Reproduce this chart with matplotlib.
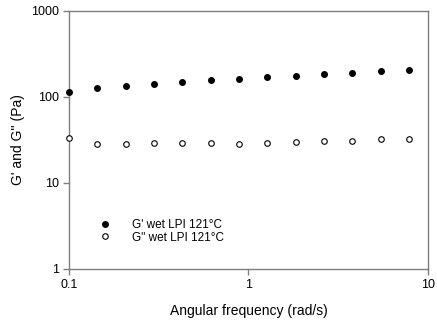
import matplotlib.pyplot as plt
import numpy as np

plt.rcParams['font.family'] = ['Liberation Sans', 'DejaVu Sans']

freq = [0.1, 0.144, 0.207, 0.298, 0.428, 0.616, 0.886, 1.27, 1.83, 2.64, 3.79, 5.45, 7.84]
g_storage = [113, 126, 133, 143, 149, 156, 163, 171, 177, 185, 192, 199, 206]
g_loss = [33.1, 28.6, 28.6, 29.4, 28.9, 29.4, 28.6, 29.4, 30.0, 30.5, 31.0, 32.2, 32.7]

fig = plt.figure(figsize=(4.37, 3.22), dpi=100)
ax = fig.add_axes([0.158, 0.165, 0.821, 0.801])

ax.plot(freq, g_storage, 'o', color='black', ms=4, label="G' wet LPI 121°C",
        clip_on=False, zorder=3)
ax.plot(freq, g_loss, 'o', mfc='white', mec='black', mew=0.8, ms=4,
        label='G" wet LPI 121°C', clip_on=False, zorder=3)

ax.set_xscale('log')
ax.set_yscale('log')
ax.set_xlim(0.1, 10)
ax.set_ylim(1, 1000)
ax.set_xticks([0.1, 1, 10])
ax.set_xticklabels(['0.1', '1', '10'])
ax.set_yticks([1, 10, 100, 1000])
ax.set_yticklabels(['1', '10', '100', '1000'])
ax.minorticks_off()

for s in ax.spines.values():
    s.set_color('#7f7f7f')
    s.set_linewidth(1.0)
ax.tick_params(direction='out', length=4, width=1, color='#7f7f7f', labelsize=9)

ax.set_xlabel('Angular frequency (rad/s)', fontsize=10, labelpad=9)
ax.set_ylabel("G' and G'' (Pa)", fontsize=10, labelpad=4)

ax.legend(loc='lower left', bbox_to_anchor=(0.05, 0.075), frameon=False, fontsize=8.5,
          handletextpad=1.3, labelspacing=0.05, borderpad=0)

fig.savefig('out.png', dpi=100)
